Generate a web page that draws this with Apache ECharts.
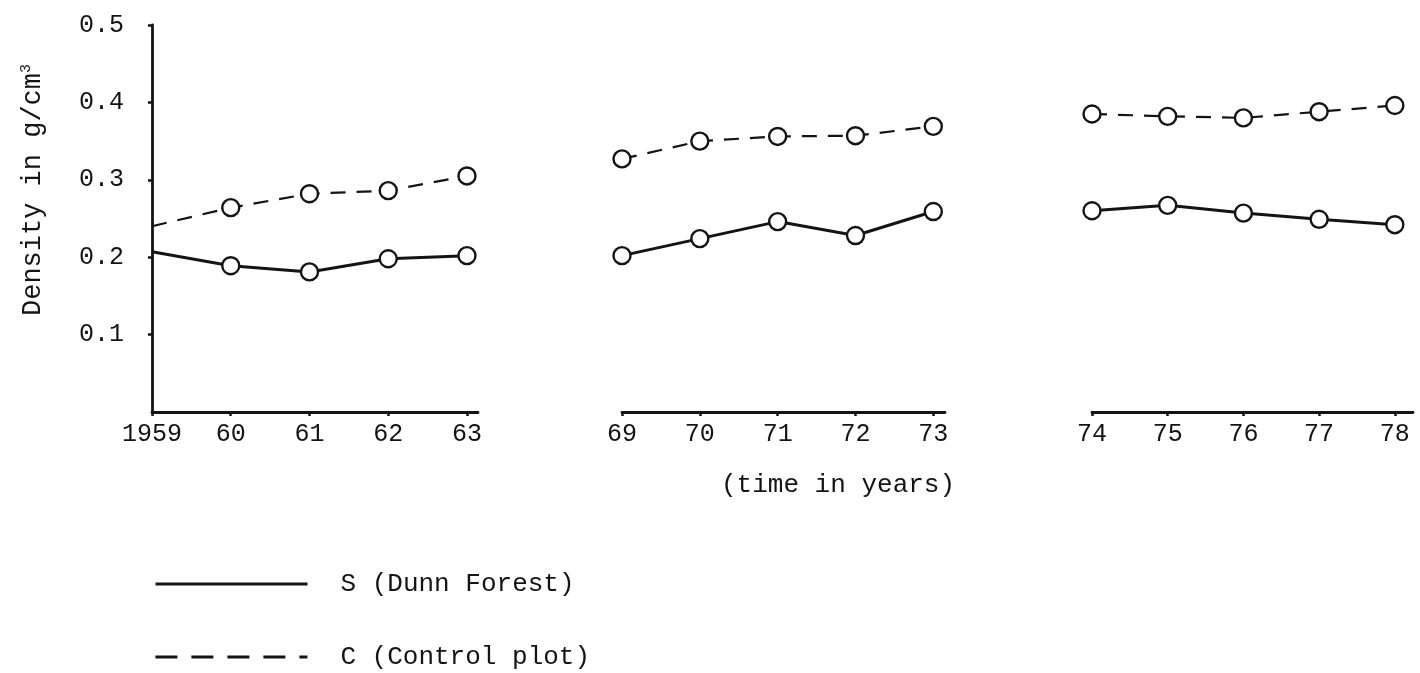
<!DOCTYPE html>
<html>
<head>
<meta charset="utf-8">
<script src="https://cdn.jsdelivr.net/npm/echarts@6/dist/echarts.min.js"></script>
<style>
html,body{margin:0;padding:0;background:#fff;}
#chart{width:1420px;height:673px;}
</style>
</head>
<body>
<div id="chart"></div>
<script>
// ---- data ----
const years1 = [1959, 1960, 1961, 1962, 1963];
const years2 = [1969, 1970, 1971, 1972, 1973];
const years3 = [1974, 1975, 1976, 1977, 1978];
const dunn1 = [0.207, 0.189, 0.181, 0.198, 0.202];
const dunn2 = [0.202, 0.224, 0.246, 0.228, 0.259];
const dunn3 = [0.260, 0.267, 0.257, 0.249, 0.242];
const ctrl1 = [0.240, 0.264, 0.282, 0.286, 0.305];
const ctrl2 = [0.327, 0.350, 0.356, 0.357, 0.369];
const ctrl3 = [0.385, 0.382, 0.380, 0.388, 0.396];
const yTicks = [0.1, 0.2, 0.3, 0.4, 0.5];
const seriesNames = ['S (Dunn Forest)', 'C (Control plot)'];
const xTitle = '(time in years)';
const yTitle = 'Density in g/cm';

// ---- chart ----
const FONT = '"Liberation Mono", "DejaVu Sans Mono", monospace';
const INK = '#141414';
const chart = echarts.init(document.getElementById('chart'));

function yearLabel(v) {
  return v === 1959 ? '1959' : String(v % 100);
}

const segs = [
  {years: years1, s: dunn1, c: ctrl1, left: 152, width: 326, ext: 0.14},
  {years: years2, s: dunn2, c: ctrl2, left: 622, width: 323, ext: 0.15},
  {years: years3, s: dunn3, c: ctrl3, left: 1092, width: 321, ext: 0.24}
];

const grid = [], xAxis = [], yAxis = [], series = [];
segs.forEach((g, i) => {
  grid.push({left: g.left, width: g.width, top: 25, height: 387});
  xAxis.push({
    type: 'value', gridIndex: i,
    min: g.years[0], max: g.years[g.years.length - 1] + g.ext,
    splitLine: {show: false},
    axisLine: {show: true, lineStyle: {color: INK, width: 2.8}},
    axisTick: {show: true, length: 4, customValues: g.years, lineStyle: {color: INK, width: 2.5}},
    axisLabel: {
      customValues: g.years, formatter: yearLabel, margin: 10,
      color: INK, fontFamily: FONT, fontSize: 25
    }
  });
  yAxis.push({
    type: 'value', gridIndex: i, min: 0, max: 0.5, interval: 0.1,
    show: i === 0,
    splitLine: {show: false},
    axisLine: {show: true, lineStyle: {color: INK, width: 2.8}},
    axisTick: {show: true, length: 4, lineStyle: {color: INK, width: 2.5}},
    axisLabel: {
      showMinLabel: false, margin: 28, color: INK, fontFamily: FONT, fontSize: 25,
      formatter: v => yTicks.indexOf(Math.round(v * 10) / 10) >= 0 ? v.toFixed(1) : ''
    }
  });
  const common = {
    type: 'line', xAxisIndex: i, yAxisIndex: i,
    symbolSize: 17, showAllSymbol: true,
    itemStyle: {color: '#fff', borderColor: INK, borderWidth: 2.4},
    z: 3
  };
  const first = i === 0;
  series.push(Object.assign({}, common, {
    name: seriesNames[0],
    symbol: (v, p) => (first && p.dataIndex === 0) ? 'none' : 'circle',
    lineStyle: {color: INK, width: 3, type: 'solid'},
    data: g.years.map((y, k) => [y, g.s[k]])
  }));
  series.push(Object.assign({}, common, {
    name: seriesNames[1],
    symbol: (v, p) => (first && p.dataIndex === 0) ? 'none' : 'circle',
    lineStyle: {color: INK, width: 2.2, type: [15, 11]},
    data: g.years.map((y, k) => [y, g.c[k]])
  }));
});

const legendCommon = {
  orient: 'vertical', left: 149,
  itemWidth: 152, itemHeight: 16,
  itemStyle: {color: 'transparent', borderColor: 'transparent', borderWidth: 0},
  textStyle: {fontFamily: FONT, fontSize: 26, color: INK, padding: [0, 0, 0, 28]}
};

chart.setOption({
  backgroundColor: '#fff',
  animation: false,
  title: {
    text: xTitle, left: 716, top: 467,
    textStyle: {fontFamily: FONT, fontSize: 26, fontWeight: 'normal', color: INK}
  },
  legend: [
    Object.assign({}, legendCommon, {top: 566, data: [seriesNames[0]], lineStyle: {width: 3}}),
    Object.assign({}, legendCommon, {top: 639, data: [seriesNames[1]], lineStyle: {width: 2.8, type: [22, 14]}})
  ],
  graphic: [{
    type: 'text', x: 33, y: 190, rotation: Math.PI / 2,
    style: {
      text: '{a|' + yTitle + '}{b|3}',
      align: 'center', verticalAlign: 'middle',
      rich: {
        a: {fontFamily: FONT, fontSize: 27, fill: INK, color: INK},
        b: {fontFamily: FONT, fontSize: 15, fill: INK, color: INK, verticalAlign: 'top', padding: [0, 0, 14, 0]}
      }
    }
  }],
  grid, xAxis, yAxis, series
});
</script>
</body>
</html>
